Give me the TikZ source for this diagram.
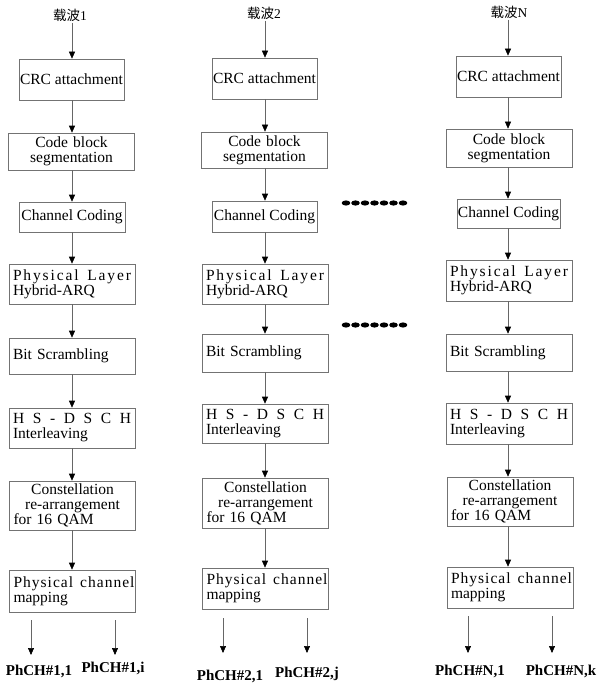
\documentclass[tikz,border=0pt]{standalone}
\usepackage{fontspec}
\usetikzlibrary{arrows.meta}
\setmainfont{Liberation Serif}
\newfontfamily\cjkfont{Noto Sans CJK SC}
\newcommand\sprd[1]{\leavevmode\hbox to\linewidth{#1}}
\newcommand\sprdw[1]{\leavevmode\hbox to\dimexpr\linewidth+3pt\relax{#1}}
\newcommand\ctr[1]{\leavevmode\hbox to\linewidth{\hfil#1\hfil}}
\newcommand\wg{\hfil\hskip 5pt\hfil}
\begin{document}
\begin{tikzpicture}[x=1pt,y=-1pt,
  blk/.style={draw=black!55, line width=0.6pt, inner xsep=4pt, inner ysep=0pt,
    font=\fontsize{15.5}{15}\selectfont},
  nar/.style={blk, minimum width=105pt, inner xsep=1pt, align=center},
  wid/.style={blk, minimum width=126pt, text width=118pt, align=left},
  wic/.style={blk, minimum width=126pt, text width=118pt, align=center},
  ht/.style={minimum height=#1pt},
  arr/.style={draw=black!60, line width=0.6pt, -{Triangle[length=7pt,width=6pt,color=black]}},
  ttl/.style={font=\fontsize{13.5}{14}\selectfont, inner sep=1pt},
  lbl/.style={font=\fontsize{15}{15}\selectfont\bfseries, inner sep=1pt},
  dot/.style={fill=black}
]
\useasboundingbox (0,0) rectangle (600,690);
\fill[white] (0,0) rectangle (600,690);

% ---------- column 1 ----------
\node[ttl] (t1) at (70,15) {{\cjkfont 载波}1};
\coordinate (t1s) at (72,23);
\node[nar,ht=41] (a1) at (71.5,79.5) {CRC attachment};
\node[wic,ht=37] (b1) at (71.5,151.5) {Code block\\segmentation};
\node[nar,minimum width=106pt,ht=30] (c1) at (72,217) {Channel Coding};
\node[wid,ht=40] (d1) at (72,284) {\sprd{P\hfil h\hfil y\hfil s\hfil i\hfil c\hfil a\hfil l\wg L\hfil a\hfil y\hfil e\hfil r}\\Hybrid-ARQ};
\node[wid,ht=36] (e1) at (72,356) {Bit Scrambling};
\node[wid,ht=40] (f1) at (72,428) {\sprd{H\hfil S\hfil -\hfil D\hfil S\hfil C\hfil H}\\Interleaving};
\node[wid,ht=49] (g1) at (72.5,505.5) {\ctr{Constellation}\\\ctr{re-arrangement}\\for 16 QAM};
\node[wid,ht=42] (h1) at (72.5,591) {\sprdw{P\hfil h\hfil y\hfil s\hfil i\hfil c\hfil a\hfil l\wg c\hfil h\hfil a\hfil n\hfil n\hfil e\hfil l}\\mapping};
\coordinate (p1s) at (31,620); \coordinate (p1e) at (31,655);
\coordinate (q1s) at (115,620); \coordinate (q1e) at (115,655);
\node[lbl] (l1a) at (39,671) {PhCH\#1,1};
\node[lbl] (l1b) at (113,668) {PhCH\#1,i};

% ---------- column 2 ----------
\node[ttl] (t2) at (264,13) {{\cjkfont 载波}2};
\coordinate (t2s) at (265,21);
\node[nar,ht=41] (a2) at (264.5,78.5) {CRC attachment};
\node[wic,ht=36] (b2) at (264.5,150) {Code block\\segmentation};
\node[nar,ht=31] (c2) at (264.5,216.5) {Channel Coding};
\node[wid,ht=40] (d2) at (265,284) {\sprd{P\hfil h\hfil y\hfil s\hfil i\hfil c\hfil a\hfil l\wg L\hfil a\hfil y\hfil e\hfil r}\\Hybrid-ARQ};
\node[wid,ht=38] (e2) at (265,353) {Bit Scrambling};
\node[wid,ht=39] (f2) at (265,423.5) {\sprd{H\hfil S\hfil -\hfil D\hfil S\hfil C\hfil H}\\Interleaving};
\node[wid,ht=50] (g2) at (265.5,503) {\ctr{Constellation}\\\ctr{re-arrangement}\\for 16 QAM};
\node[wid,ht=41] (h2) at (265.5,588.5) {\sprdw{P\hfil h\hfil y\hfil s\hfil i\hfil c\hfil a\hfil l\wg c\hfil h\hfil a\hfil n\hfil n\hfil e\hfil l}\\mapping};
\coordinate (p2s) at (223,618); \coordinate (p2e) at (223,653);
\coordinate (q2s) at (307,618); \coordinate (q2e) at (307,653);
\node[lbl] (l2a) at (230,676) {PhCH\#2,1};
\node[lbl] (l2b) at (307,674) {PhCH\#2,j};

% ---------- column N ----------
\node[ttl] (tN) at (509,12) {{\cjkfont 载波}N};
\coordinate (tNs) at (508,20);
\node[nar,ht=41] (aN) at (508.5,76.5) {CRC attachment};
\node[wic,ht=38] (bN) at (509,148) {Code block\\segmentation};
\node[nar,minimum width=103pt,ht=29] (cN) at (508.5,213.5) {Channel Coding};
\node[wid,ht=41] (dN) at (509,280.5) {\sprd{P\hfil h\hfil y\hfil s\hfil i\hfil c\hfil a\hfil l\wg L\hfil a\hfil y\hfil e\hfil r}\\Hybrid-ARQ};
\node[wid,ht=37] (eN) at (509,352.5) {Bit Scrambling};
\node[wid,ht=41] (fN) at (509,423.5) {\sprd{H\hfil S\hfil -\hfil D\hfil S\hfil C\hfil H}\\Interleaving};
\node[wid,ht=49] (gN) at (510,501.5) {\ctr{Constellation}\\\ctr{re-arrangement}\\for 16 QAM};
\node[wid,ht=41] (hN) at (510,587.5) {\sprdw{P\hfil h\hfil y\hfil s\hfil i\hfil c\hfil a\hfil l\wg c\hfil h\hfil a\hfil n\hfil n\hfil e\hfil l}\\mapping};
\coordinate (pNs) at (468,616); \coordinate (pNe) at (468,653);
\coordinate (qNs) at (552,616); \coordinate (qNe) at (552,653);
\node[lbl] (lNa) at (470,671) {PhCH\#N,1};
\node[lbl] (lNb) at (561,671) {PhCH\#N,k};

% ---------- connectors ----------
\foreach \c/\x in {1/72,2/265,N/508}{
  \draw[arr] (t\c s) -- (\x, 0 |- a\c.north);
  \draw[arr] (\x, 0 |- a\c.south) -- (\x, 0 |- b\c.north);
  \draw[arr] (\x, 0 |- b\c.south) -- (\x, 0 |- c\c.north);
  \draw[arr] (\x, 0 |- c\c.south) -- (\x, 0 |- d\c.north);
  \draw[arr] (\x, 0 |- d\c.south) -- (\x, 0 |- e\c.north);
  \draw[arr] (\x, 0 |- e\c.south) -- (\x, 0 |- f\c.north);
  \draw[arr] (\x, 0 |- f\c.south) -- (\x, 0 |- g\c.north);
  \draw[arr] (\x, 0 |- g\c.south) -- (\x, 0 |- h\c.north);
  \draw[arr] (p\c s) -- (p\c e);
  \draw[arr] (q\c s) -- (q\c e);
}

% ---------- dots ----------
\foreach \i in {0,...,6}{
  \fill[dot] (346+9.5*\i,203) ellipse [x radius=4.3, y radius=2.6];
  \fill[dot] (346+9.5*\i,325) ellipse [x radius=4.3, y radius=2.6];
}
\end{tikzpicture}
\end{document}
